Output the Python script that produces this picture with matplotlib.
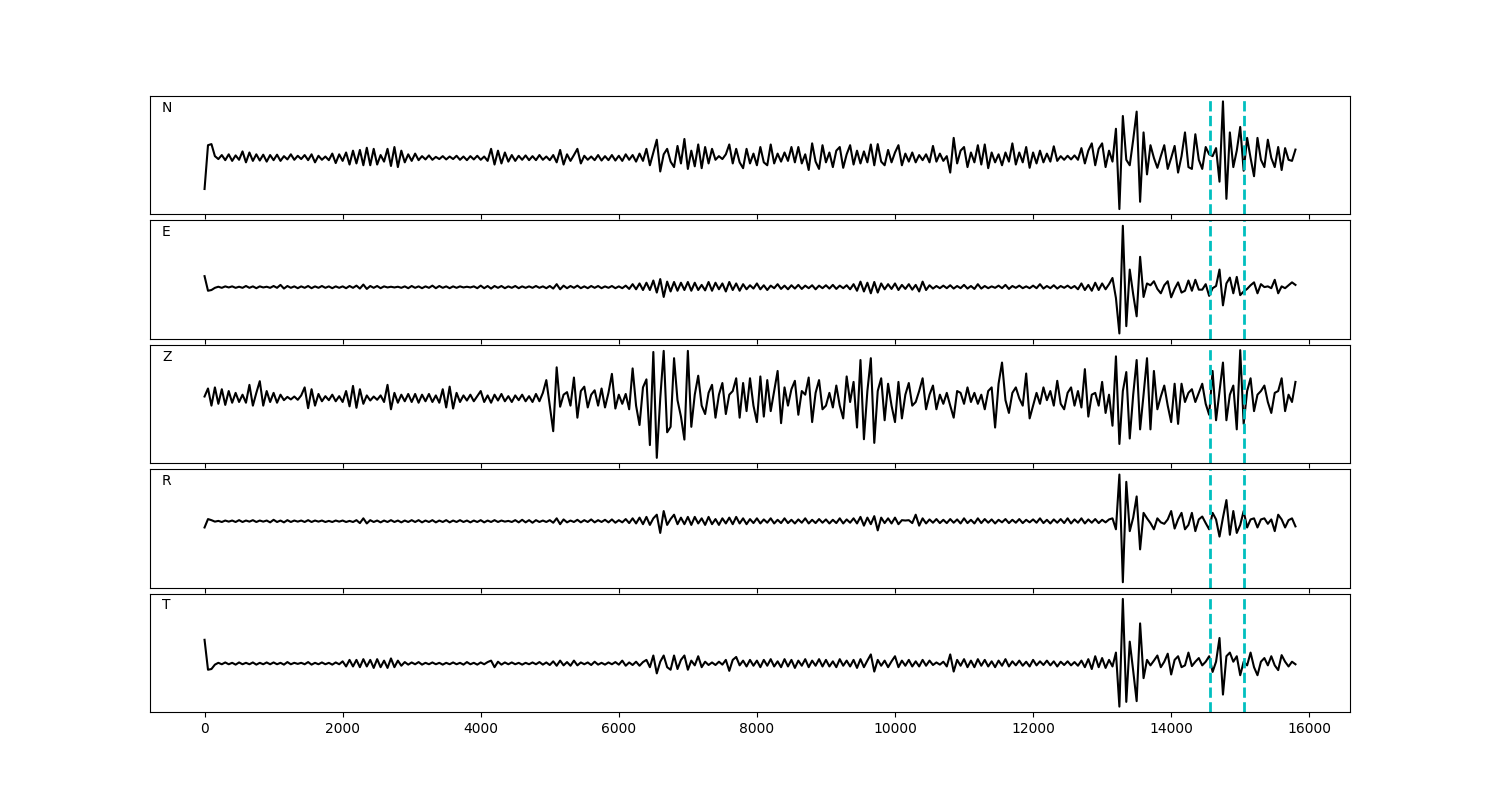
import numpy as np
import matplotlib
matplotlib.use("Agg")
import matplotlib.pyplot as plt

# sample interval of the traces (time units on the x axis)
DT = 50
components = ["N", "E", "Z", "R", "T"]
picks = [14560, 15060]

n_vals = [
    -85, 35, 38, 5, -3, 8, -6, 10, -8, 7, -5, 18, -12, 15, -8, 10, -7, 9, -10, 8,
    -6, 9, -8, 5, -4, 10, -5, 6, -3, 8, -6, 10, -12, 6, -5, 4, -6, 12, -14, 10,
    -8, 15, -18, 20, -15, 22, -20, 28, -20, 25, -18, 8, -10, 25, -22, 30, -25, 20, -12, 10,
    -8, 12, -6, 5, -4, 7, -5, 3, -3, 5, -4, 4, -3, 6, -5, 4, -6, 5, -4, 6,
    -5, 4, -8, 25, -18, 20, -15, 15, -10, 8, -8, 6, -5, 7, -6, 5, -6, 8, -5, 4,
    -6, 8, -12, 22, -18, 10, -8, 8, 25, -15, 6, -5, 4, -6, 8, -7, 5, -6, 8, -7,
    6, -8, 10, -5, 8, -10, 12, -8, 25, -20, 15, 50, -37, 10, 25, -10, -25, 33, -15, 52,
    -30, 20, -23, 37, -28, 30, -15, 25, -5, 5, -3, 10, 37, -15, 25, -12, -28, 25, -15, 12,
    -20, 30, -12, -20, 37, -15, 12, -10, 15, -8, 30, -12, 30, -15, 10, -33, 40, -10, -30, 35,
    -12, 15, -25, 20, 30, -27, 10, 35, -18, 20, -15, 18, -12, 37, -20, 38, -10, -20, 22, -12,
    15, 35, -20, 12, -10, 15, -12, 8, -6, 10, -12, 33, -10, 12, -8, 5, -40, 55, -15, 20,
    30, -25, 15, -12, 35, -18, 37, -28, 15, -12, 10, -20, 15, -10, 40, -18, 15, -12, 30, -27,
    15, -15, 20, -12, 12, -10, 32, -8, 5, -5, 6, -4, 7, -5, 27, -15, 20, 40, -20, 25,
    40, -25, 20, -10, 80, -140, 115, -5, -20, 50, 127, -120, 70, -45, 35, 0, -27, 5, 35, -30,
    0, 33, -40, 5, 70, -25, -30, 65, -5, -30, 30, 10, 5, 27, -65, 155, -112, 70, -25, 20,
    85, -35, 55, 0, -50, 55, -5, -25, 50, 0, -25, 30, -33, 27, -5, -8, 23,
]

e_vals = [
    30, -10, -8, -2, 1, -2, 2, -1, 2, -2, 1, -2, 3, -2, 2, -3, 2, -1, 1, -2,
    3, -2, 6, -4, 3, -2, 2, -3, 2, -2, 3, -3, 2, -2, 3, -2, 2, -3, 2, -2,
    2, -3, 3, -2, 4, -4, 7, -5, 3, -2, 3, -3, 2, -1, 1, -1, 1, -2, 2, -3,
    3, -2, 2, -3, 2, -2, 4, -3, 3, -2, 2, -3, 2, -2, 2, -1, 1, -1, 2, -3,
    4, -3, 3, -4, 3, -2, 3, -3, 2, -2, 3, -3, 2, -2, 2, -2, 3, -2, 2, -3,
    3, -4, 8, -6, 4, -3, 3, -2, 4, -3, 2, -3, 3, -2, 3, -3, 2, -2, 3, -3,
    2, -3, 4, -5, 8, -6, 10, -8, 12, -8, 18, -15, 22, -27, 15, -12, 14, -10, 12, -8,
    14, -10, 12, -8, 6, -9, 14, -10, 12, -6, 10, -12, 14, -8, 10, -10, 8, -6, 5, -4,
    10, -6, 5, -8, 4, -3, 8, -5, 4, -6, 5, -4, 6, -5, 4, -3, 5, -6, 4, -3,
    5, -4, 6, -5, 4, -3, 5, -6, 8, -10, 15, -12, 12, -17, 14, -15, 10, -6, 8, -5,
    10, -8, 6, -5, 8, -7, 6, -12, 15, -8, 5, -4, 3, -3, 4, -3, 5, -4, 3, -3,
    6, -4, 3, -5, 8, -4, 3, -3, 2, -2, 4, -3, 6, -5, 3, -2, 4, -3, 2, -3,
    4, -3, 8, -4, 3, -3, 5, -4, 3, -2, 4, -3, 3, -6, 10, -8, 6, -10, 12, -8,
    10, -6, 8, 25, -30, -127, 168, -107, 48, -20, -80, 83, -27, 10, 5, 16, -5, -17, 5, 16,
    -28, -5, 13, -15, -10, 18, -10, 20, -7, -7, 8, -24, -3, 3, 48, -50, 10, 26, -17, 28,
    -22, -12, -5, 5, 13, -17, 8, 0, 2, -3, 20, -17, 2, -3, 5, 13, 6,
]

z_vals = [
    5, 27, -20, 30, -15, 25, -18, 20, -12, 15, -10, 10, -12, 37, -20, 15, 47, -20, 20, -10,
    15, -12, 10, -5, 4, -3, 5, -4, 8, 30, -27, 25, -20, 12, -8, 6, -5, 10, -8, 6,
    -10, 20, -22, 34, -26, 25, -15, 8, -6, 5, -4, 8, -10, 37, -30, 15, -12, 10, -8, 12,
    -10, 12, -12, 10, -8, 12, -10, 8, -12, 25, -25, 32, -28, 15, -10, 8, -6, 10, -8, 6,
    20, -10, 8, -12, 10, -6, 12, -8, 6, -10, 8, -5, 10, -8, 6, -10, 12, -8, 15, 50,
    -20, -90, 85, -23, 10, 17, -20, 57, -53, 20, 32, -25, 10, 22, -20, 27, -25, 15, 67, -28,
    10, -15, 12, -30, 82, -20, -73, 30, 52, -128, 127, -163, 0, 130, -93, -78, 110, -5, -50, -113,
    130, -78, 10, 62, -20, -43, 15, 37, -53, 10, 42, -43, 10, 20, 55, -53, 42, -35, 55, -20,
    -65, 60, -50, 50, -35, 20, 75, -68, 30, -20, 25, 48, -45, 20, 10, 57, -65, 15, 50, -30,
    -20, 15, -25, 35, -20, -55, 60, -10, 45, -80, 105, -112, 20, 110, -122, 20, 55, -60, 40, -20,
    -65, 45, -55, 10, 42, -20, -10, 20, 55, -30, 10, 35, -30, 10, -15, 15, -20, -53, 20, 15,
    -15, 30, -10, 15, -15, 10, -30, 20, 30, -80, 40, 98, -5, -40, 15, 30, 0, -20, 68, -55,
    -20, 15, -15, 30, -5, 20, -20, 48, -15, -30, 15, 30, -20, 20, -25, 80, -50, 10, 15, -20,
    45, -40, 10, -75, 115, -125, 20, 72, -110, 10, 105, -85, 10, 110, -85, 75, -30, 5, 35, -20,
    -65, 40, -70, 40, -10, 15, 25, -10, 15, 40, -15, -45, 75, -60, 20, 98, -60, 10, 35, -85,
    132, -70, 20, 55, -35, 10, 20, 35, -10, -40, 15, 20, 55, -35, 10, -10, 45,
]

r_vals = [
    -17, 6, 3, -1, 1, -2, 2, -1, 2, -2, 3, -2, 2, -1, 3, -2, 2, -1, 2, -3,
    4, -2, 2, -3, 3, -2, 2, -1, 2, -2, 3, -2, 2, -1, 2, -2, 1, -2, 2, -1,
    2, -2, 1, -2, 3, -5, 8, -6, 3, -2, 2, -3, 2, -2, 3, -2, 2, -3, 2, -2,
    3, -2, 3, -3, 2, -2, 3, -3, 2, -2, 3, -3, 2, -2, 3, -2, 2, -3, 2, -2,
    3, -3, 2, -2, 3, -2, 2, -1, 1, -2, 3, -3, 4, -3, 3, -4, 3, -2, 2, -2,
    3, -4, 8, -8, 5, -3, 2, -2, 4, -3, 3, -2, 5, -3, 3, -2, 4, -3, 5, -4,
    3, -3, 6, -5, 8, -6, 10, -8, 12, -10, 8, 18, -32, 28, -10, 6, 18, -8, 10, -8,
    12, -10, 12, -6, 8, -10, 12, -8, 6, -10, 8, -6, 10, -8, 12, -6, 8, -8, 6, -5,
    8, -6, 5, -4, 8, -6, 4, -5, 8, -5, 4, -6, 5, -4, 8, -6, 4, -5, 6, -4,
    5, -6, 4, -5, 8, -6, 5, -4, 8, -6, 12, -12, 10, -8, 14, -25, 10, -5, 8, -6,
    10, -8, 3, 2, 3, -5, 18, -12, 8, -6, 5, -4, 6, -5, 4, -5, 6, -4, 5, -6,
    8, -5, 4, -6, 8, -5, 6, -4, 5, -6, 4, -3, 6, -5, 4, -4, 6, -5, 4, -3,
    5, -4, 8, -5, 4, -6, 5, -4, 6, -5, 8, -6, 5, -4, 8, -6, 5, -4, 6, -5,
    4, -3, 5, 8, -22, 128, -167, 108, -27, 10, 68, -77, 23, 8, -5, -22, 8, -3, -7, 5,
    28, -20, 5, 23, -22, -10, 23, -27, 5, 13, -5, -22, 23, 5, -42, 10, 58, -37, 28, -32,
    -10, 28, -17, 5, 8, -17, 5, 8, -7, 5, -27, 18, 5, -17, 3, 8, -14,
]

t_vals = [
    65, -17, -15, -3, 2, -2, 3, -2, 2, -3, 3, -2, 2, -2, 3, -3, 2, -2, 3, -2,
    3, -2, 2, -3, 4, -2, 2, -1, 2, -2, 4, -3, 2, -2, 3, -2, 2, -3, 3, -2,
    6, -8, 10, -8, 10, -10, 12, -8, 10, -12, 12, -10, 8, -12, 14, -10, 8, -6, 4, -3,
    3, -2, 4, -3, 2, -2, 3, -2, 2, -3, 2, -2, 3, -2, 2, -3, 4, -2, 2, -3,
    3, -2, 4, 8, -10, 5, -3, 3, -2, 3, -2, 2, -3, 2, -2, 3, -2, 4, -3, 3,
    -4, 6, -6, 8, -5, 4, -6, 8, -5, 3, -2, 3, -4, 5, -3, 2, -3, 3, -2, 4,
    -3, 8, -6, 3, -4, 5, -6, 4, 10, -10, 22, -27, 5, 22, -10, -17, 22, -15, 10, 22,
    -17, 8, -5, 20, -10, 5, -4, 3, -4, 5, -3, 10, -20, 10, 18, -5, 8, -8, 10, -6,
    8, -10, 10, -6, 12, -8, 6, -10, 12, -8, 10, -12, 8, -6, 12, -10, 8, -6, 12, -8,
    10, -8, 6, -10, 12, -6, 8, -8, 10, -12, 12, -10, 8, 25, -22, 10, -6, 8, -10, 6,
    20, -10, 8, -6, 10, -8, 6, -8, 10, -6, 8, -4, 3, -3, 5, -8, 25, -22, 10, -6,
    12, -10, 8, -10, 12, -6, 10, -8, 6, -10, 8, -6, 12, -8, 6, -5, 8, -6, 5, -8,
    10, -5, 6, -4, 8, -5, 6, -8, 5, -4, 6, -5, 4, -6, 8, -10, 12, -15, 20, -10,
    15, -12, 10, -8, 30, -118, 177, -105, 60, -20, -103, 110, -40, 10, -5, 8, 22, -10, 5, 27,
    -30, 10, 20, -10, -5, 30, -7, 5, 15, -5, 5, 20, -23, 5, 70, -85, 20, 30, 5, 20,
    -32, 5, -5, 30, -10, -32, 5, 15, -5, 20, -5, -18, 23, 5, -8, 5, -2,
]

traces = [n_vals, e_vals, z_vals, r_vals, t_vals]

fig, axes = plt.subplots(5, 1, figsize=(15, 8), dpi=100, sharex=True)
fig.subplots_adjust(left=0.1, right=0.9, top=0.88, bottom=0.11, hspace=0.05)

for ax, name, vals in zip(axes, components, traces):
    t = np.arange(len(vals)) * DT
    ax.plot(t, vals, color="black", lw=1.5)
    for p in picks:
        ax.axvline(p, color="c", ls="--", lw=2)
    ax.set_yticks([])
    ax.text(0.01, 0.9, name, transform=ax.transAxes, ha="left", va="center",
            fontsize=10)

fig.savefig("out.png", dpi=100)
